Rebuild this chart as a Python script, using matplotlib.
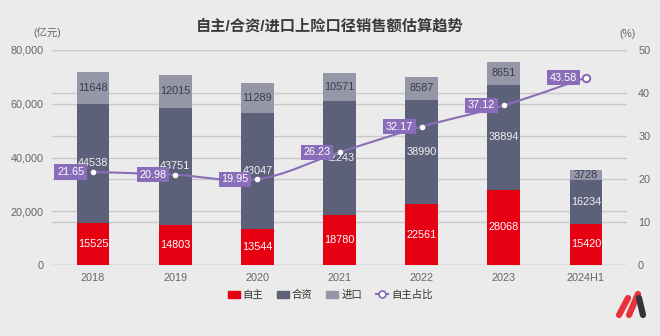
import matplotlib

matplotlib.use("Agg")
import matplotlib.pyplot as plt
from matplotlib.path import Path
from matplotlib.patches import PathPatch, Patch
from matplotlib.lines import Line2D
from matplotlib.transforms import blended_transform_factory

plt.rcParams["font.family"] = ["Liberation Sans", "Noto Sans CJK SC", "DejaVu Sans"]

# ── data ───────────────────────────────────────────────────────────────
years = ["2018", "2019", "2020", "2021", "2022", "2023", "2024H1"]
own = [15525, 14803, 13544, 18780, 22561, 28068, 15420]       # 自主
jv = [44538, 43751, 43047, 42243, 38990, 38894, 16234]        # 合资
imp = [11648, 12015, 11289, 10571, 8587, 8651, 3728]          # 进口
share = [21.65, 20.98, 19.95, 26.23, 32.17, 37.12, 43.58]     # 自主占比 %

RED = "#e60012"
DARK = "#5d6079"
LIGHT = "#9597a9"
PURPLE = "#8a6db8"
BG = "#ebebeb"
GRID = "#c9c9c9"
TXT = "#666666"

fig = plt.figure(figsize=(6.6, 3.36), dpi=100, facecolor=BG)
ax = fig.add_axes([52 / 660, 1 - 265 / 336, 575 / 660, 215 / 336])
ax.set_facecolor(BG)
ax2 = ax.twinx()

x = list(range(len(years)))
w = 0.4
ax.bar(x, own, w, color=RED, zorder=3)
ax.bar(x, jv, w, bottom=own, color=DARK, zorder=3)
bot3 = [a + b for a, b in zip(own, jv)]
ax.bar(x, imp, w, bottom=bot3, color=LIGHT, zorder=3)

for vals, bots, col in [(own, [0] * 7, "white"),
                        (jv, own, "#f2f2f2"),
                        (imp, bot3, "#3a3a4a")]:
    for xi, v, b in zip(x, vals, bots):
        ax.text(xi, b + v / 2, str(v), ha="center", va="center",
                fontsize=7.8, color=col, zorder=4)

ax.set_xlim(-0.5, len(years) - 0.5)
ax.set_ylim(0, 80000)
ax.set_yticks([0, 20000, 40000, 60000, 80000])
ax.set_yticklabels(["0", "20,000", "40,000", "60,000", "80,000"])
ax.set_xticks(x)
ax.set_xticklabels(years)
ax2.set_ylim(0, 50)
ax2.set_yticks([0, 10, 20, 30, 40, 50])

for a in (ax, ax2):
    for s in a.spines.values():
        s.set_visible(False)
    a.tick_params(length=0, labelsize=7.8, colors=TXT)
ax.tick_params(axis="y", pad=6)
ax.tick_params(axis="x", pad=6)
ax2.tick_params(axis="y", pad=8)

# gridlines for both scales behind bars
for t in ax.get_yticks():
    ax.axhline(t, color=GRID, lw=1, zorder=1)
tr = blended_transform_factory(ax.transAxes, ax2.transData)
for t in ax2.get_yticks():
    ax.plot([0, 1], [t, t], transform=tr, color=GRID, lw=1, zorder=1)

# smooth line (cubic bezier through the points)
k = 0.35
verts = [(x[0], share[0])]
codes = [Path.MOVETO]
n = len(x)
for i in range(n - 1):
    p0 = (x[max(i - 1, 0)], share[max(i - 1, 0)])
    p1 = (x[i], share[i])
    p2 = (x[i + 1], share[i + 1])
    p3 = (x[min(i + 2, n - 1)], share[min(i + 2, n - 1)])
    c1 = (p1[0] + (p2[0] - p0[0]) * k / 2, p1[1] + (p2[1] - p0[1]) * k / 2)
    c2 = (p2[0] - (p3[0] - p1[0]) * k / 2, p2[1] - (p3[1] - p1[1]) * k / 2)
    verts += [c1, c2, p2]
    codes += [Path.CURVE4] * 3
ax2.add_patch(PathPatch(Path(verts, codes), fill=False, edgecolor=PURPLE,
                        lw=1.5, zorder=5))
ax2.scatter(x[:-1], share[:-1], s=9, color="white", zorder=6)
ax2.scatter(x[-1:], share[-1:], s=28, facecolor="white", edgecolor=PURPLE,
            lw=1.5, zorder=6)

for xi, v in zip(x, share):
    ax2.annotate(f"{v:.2f}", (xi, v), xytext=(-6.3, 0), textcoords="offset points",
                 ha="right", va="center", fontsize=7.8, color="white", zorder=7,
                 bbox=dict(boxstyle="square,pad=0.25", fc=PURPLE, ec="none"))

# texts
fig.text(0.5, 1 - 26 / 336, "自主/合资/进口上险口径销售额估算趋势", ha="center",
         va="center", fontsize=11, fontweight="bold", color="#3a3a3a")
fig.text(33 / 660, 1 - 33 / 336, "(亿元)", ha="left", va="center",
         fontsize=7.5, color=TXT)
fig.text(628 / 660, 1 - 34 / 336, "(%)", ha="center", va="center",
         fontsize=7.5, color=TXT)

handles = [Patch(color=RED), Patch(color=DARK), Patch(color=LIGHT),
           Line2D([0], [0], color=PURPLE, lw=1.5, marker="o", ms=5,
                  mfc="white", mec=PURPLE, mew=1.3)]
fig.legend(handles, ["自主", "合资", "进口", "自主占比"], ncol=4,
           loc="center", bbox_to_anchor=(330 / 660, 1 - 295 / 336),
           frameon=False, fontsize=7.5, handlelength=1.15, handleheight=0.8,
           columnspacing=1.3, handletextpad=0.3, labelcolor="#333333")

# logo
for (x0, y0, x1, y1, c) in [(619, 315, 628, 298, "#e8333c"),
                            (629, 315, 638, 294, "#e8333c"),
                            (639, 298, 643, 315, "#34343a")]:
    fig.add_artist(Line2D([x0 / 660, x1 / 660], [1 - y0 / 336, 1 - y1 / 336],
                          transform=fig.transFigure, color=c, lw=4.5,
                          solid_capstyle="round"))

plt.savefig("out.png", dpi=100, facecolor=BG)
plt.close()
